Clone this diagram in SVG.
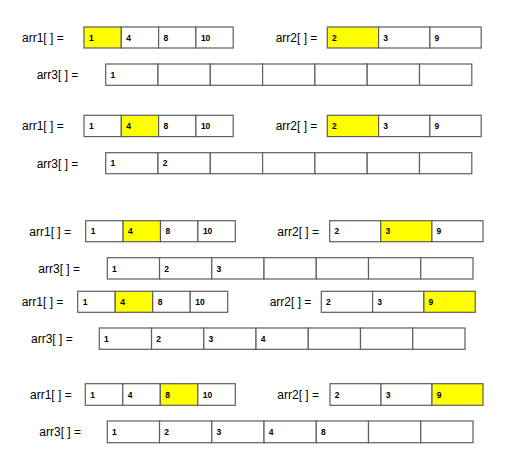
<svg xmlns="http://www.w3.org/2000/svg" width="516" height="463" viewBox="0 0 516 463">
<style>
.c{fill:#fff;stroke:#5e5e5e;stroke-width:1.2}
.h{fill:#ffff00;stroke:#5e5e5e;stroke-width:1.2}
.lb{font-family:"Liberation Sans",Arial,sans-serif;font-size:12px;fill:#000}
.v{font-family:"Liberation Sans",Arial,sans-serif;font-size:8.5px;font-weight:bold;fill:#000}
</style>
<rect width="516" height="463" fill="#fff"/>
<!-- Step 1 -->
<g id="s1-arr1">
<text class="lb" x="22" y="42">arr1[ ] =</text>
<rect class="h" x="84" y="27" width="37.3" height="21"/><rect class="c" x="121.3" y="27" width="37.3" height="21"/><rect class="c" x="158.6" y="27" width="37.3" height="21"/><rect class="c" x="195.9" y="27" width="37.3" height="21"/>
<text class="v" x="89" y="40.6">1</text><text class="v" x="126.3" y="40.6">4</text><text class="v" x="163.6" y="40.6">8</text><text class="v" x="200.9" y="40.6">10</text>
</g>
<g id="s1-arr2">
<text class="lb" x="275.7" y="42">arr2[ ] =</text>
<rect class="h" x="327.3" y="27" width="51.3" height="21"/><rect class="c" x="378.6" y="27" width="51.3" height="21"/><rect class="c" x="429.9" y="27" width="51.3" height="21"/>
<text class="v" x="332" y="40.6">2</text><text class="v" x="383.3" y="40.6">3</text><text class="v" x="434.6" y="40.6">9</text>
</g>
<g id="s1-arr3">
<text class="lb" x="36.7" y="79">arr3[ ] =</text>
<rect class="c" x="105.7" y="64" width="52.3" height="21.3"/><rect class="c" x="158" y="64" width="52.3" height="21.3"/><rect class="c" x="210.3" y="64" width="52.3" height="21.3"/><rect class="c" x="262.6" y="64" width="52.3" height="21.3"/><rect class="c" x="314.9" y="64" width="52.3" height="21.3"/><rect class="c" x="367.2" y="64" width="52.3" height="21.3"/><rect class="c" x="419.5" y="64" width="52.3" height="21.3"/>
<text class="v" x="110.5" y="77.8">1</text>
</g>
<!-- Step 2 -->
<g id="s2-arr1">
<text class="lb" x="22" y="130.3">arr1[ ] =</text>
<rect class="c" x="84" y="115.3" width="37.3" height="21.3"/><rect class="h" x="121.3" y="115.3" width="37.3" height="21.3"/><rect class="c" x="158.6" y="115.3" width="37.3" height="21.3"/><rect class="c" x="195.9" y="115.3" width="37.3" height="21.3"/>
<text class="v" x="89" y="129">1</text><text class="v" x="126.3" y="129">4</text><text class="v" x="163.6" y="129">8</text><text class="v" x="200.9" y="129">10</text>
</g>
<g id="s2-arr2">
<text class="lb" x="275.7" y="130.3">arr2[ ] =</text>
<rect class="h" x="327.3" y="115.3" width="51.3" height="21.3"/><rect class="c" x="378.6" y="115.3" width="51.3" height="21.3"/><rect class="c" x="429.9" y="115.3" width="51.3" height="21.3"/>
<text class="v" x="332" y="129">2</text><text class="v" x="383.3" y="129">3</text><text class="v" x="434.6" y="129">9</text>
</g>
<g id="s2-arr3">
<text class="lb" x="36.7" y="167.5">arr3[ ] =</text>
<rect class="c" x="105.7" y="152.7" width="52.3" height="21"/><rect class="c" x="158" y="152.7" width="52.3" height="21"/><rect class="c" x="210.3" y="152.7" width="52.3" height="21"/><rect class="c" x="262.6" y="152.7" width="52.3" height="21"/><rect class="c" x="314.9" y="152.7" width="52.3" height="21"/><rect class="c" x="367.2" y="152.7" width="52.3" height="21"/><rect class="c" x="419.5" y="152.7" width="52.3" height="21"/>
<text class="v" x="110.5" y="166.3">1</text><text class="v" x="162.8" y="166.3">2</text>
</g>
<!-- Step 3 -->
<g id="s3-arr1">
<text class="lb" x="29.3" y="235.6">arr1[ ] =</text>
<rect class="c" x="85.7" y="220.7" width="37.4" height="21"/><rect class="h" x="123.1" y="220.7" width="37.4" height="21"/><rect class="c" x="160.5" y="220.7" width="37.4" height="21"/><rect class="c" x="197.9" y="220.7" width="37.4" height="21"/>
<text class="v" x="90.7" y="234.3">1</text><text class="v" x="128.1" y="234.3">4</text><text class="v" x="165.5" y="234.3">8</text><text class="v" x="202.9" y="234.3">10</text>
</g>
<g id="s3-arr2">
<text class="lb" x="277.3" y="235.6">arr2[ ] =</text>
<rect class="c" x="329.7" y="220.7" width="51.1" height="21"/><rect class="h" x="380.8" y="220.7" width="51.1" height="21"/><rect class="c" x="431.9" y="220.7" width="51.1" height="21"/>
<text class="v" x="334.4" y="234.3">2</text><text class="v" x="385.5" y="234.3">3</text><text class="v" x="436.6" y="234.3">9</text>
</g>
<g id="s3-arr3">
<text class="lb" x="38.3" y="272.7">arr3[ ] =</text>
<rect class="c" x="107.3" y="257.7" width="52.24" height="21.3"/><rect class="c" x="159.54" y="257.7" width="52.24" height="21.3"/><rect class="c" x="211.78" y="257.7" width="52.24" height="21.3"/><rect class="c" x="264.02" y="257.7" width="52.24" height="21.3"/><rect class="c" x="316.26" y="257.7" width="52.24" height="21.3"/><rect class="c" x="368.5" y="257.7" width="52.24" height="21.3"/><rect class="c" x="420.74" y="257.7" width="52.24" height="21.3"/>
<text class="v" x="112.1" y="271.5">1</text><text class="v" x="164.3" y="271.5">2</text><text class="v" x="216.6" y="271.5">3</text>
</g>
<!-- Step 4 -->
<g id="s4-arr1">
<text class="lb" x="21.7" y="306.2">arr1[ ] =</text>
<rect class="c" x="77.7" y="291.3" width="37.5" height="21"/><rect class="h" x="115.2" y="291.3" width="37.5" height="21"/><rect class="c" x="152.7" y="291.3" width="37.5" height="21"/><rect class="c" x="190.2" y="291.3" width="37.5" height="21"/>
<text class="v" x="82.7" y="304.9">1</text><text class="v" x="120.2" y="304.9">4</text><text class="v" x="157.7" y="304.9">8</text><text class="v" x="195.2" y="304.9">10</text>
</g>
<g id="s4-arr2">
<text class="lb" x="269.7" y="306.2">arr2[ ] =</text>
<rect class="c" x="321.3" y="291.3" width="51.3" height="21"/><rect class="c" x="372.6" y="291.3" width="51.3" height="21"/><rect class="h" x="423.9" y="291.3" width="51.3" height="21"/>
<text class="v" x="326" y="304.9">2</text><text class="v" x="377.3" y="304.9">3</text><text class="v" x="428.6" y="304.9">9</text>
</g>
<g id="s4-arr3">
<text class="lb" x="31" y="343">arr3[ ] =</text>
<rect class="c" x="99.3" y="328" width="52.24" height="21.3"/><rect class="c" x="151.54" y="328" width="52.24" height="21.3"/><rect class="c" x="203.78" y="328" width="52.24" height="21.3"/><rect class="c" x="256.02" y="328" width="52.24" height="21.3"/><rect class="c" x="308.26" y="328" width="52.24" height="21.3"/><rect class="c" x="360.5" y="328" width="52.24" height="21.3"/><rect class="c" x="412.74" y="328" width="52.24" height="21.3"/>
<text class="v" x="104.1" y="341.8">1</text><text class="v" x="156.3" y="341.8">2</text><text class="v" x="208.6" y="341.8">3</text><text class="v" x="260.8" y="341.8">4</text>
</g>
<!-- Step 5 -->
<g id="s5-arr1">
<text class="lb" x="30" y="398.8">arr1[ ] =</text>
<rect class="c" x="85.3" y="383.7" width="37.5" height="21.6"/><rect class="c" x="122.8" y="383.7" width="37.5" height="21.6"/><rect class="h" x="160.3" y="383.7" width="37.5" height="21.6"/><rect class="c" x="197.8" y="383.7" width="37.5" height="21.6"/>
<text class="v" x="90.3" y="397.6">1</text><text class="v" x="127.8" y="397.6">4</text><text class="v" x="165.3" y="397.6">8</text><text class="v" x="202.8" y="397.6">10</text>
</g>
<g id="s5-arr2">
<text class="lb" x="277.3" y="398.8">arr2[ ] =</text>
<rect class="c" x="330" y="383.7" width="51" height="21.6"/><rect class="c" x="381" y="383.7" width="51" height="21.6"/><rect class="h" x="432" y="383.7" width="51" height="21.6"/>
<text class="v" x="334.7" y="397.6">2</text><text class="v" x="385.7" y="397.6">3</text><text class="v" x="436.7" y="397.6">9</text>
</g>
<g id="s5-arr3">
<text class="lb" x="39.3" y="436.2">arr3[ ] =</text>
<rect class="c" x="107.3" y="421" width="52.24" height="21.7"/><rect class="c" x="159.54" y="421" width="52.24" height="21.7"/><rect class="c" x="211.78" y="421" width="52.24" height="21.7"/><rect class="c" x="264.02" y="421" width="52.24" height="21.7"/><rect class="c" x="316.26" y="421" width="52.24" height="21.7"/><rect class="c" x="368.5" y="421" width="52.24" height="21.7"/><rect class="c" x="420.74" y="421" width="52.24" height="21.7"/>
<text class="v" x="112.1" y="435">1</text><text class="v" x="164.3" y="435">2</text><text class="v" x="216.6" y="435">3</text><text class="v" x="268.8" y="435">4</text><text class="v" x="321.1" y="435">8</text>
</g>
<g id="connectors"/>
</svg>
